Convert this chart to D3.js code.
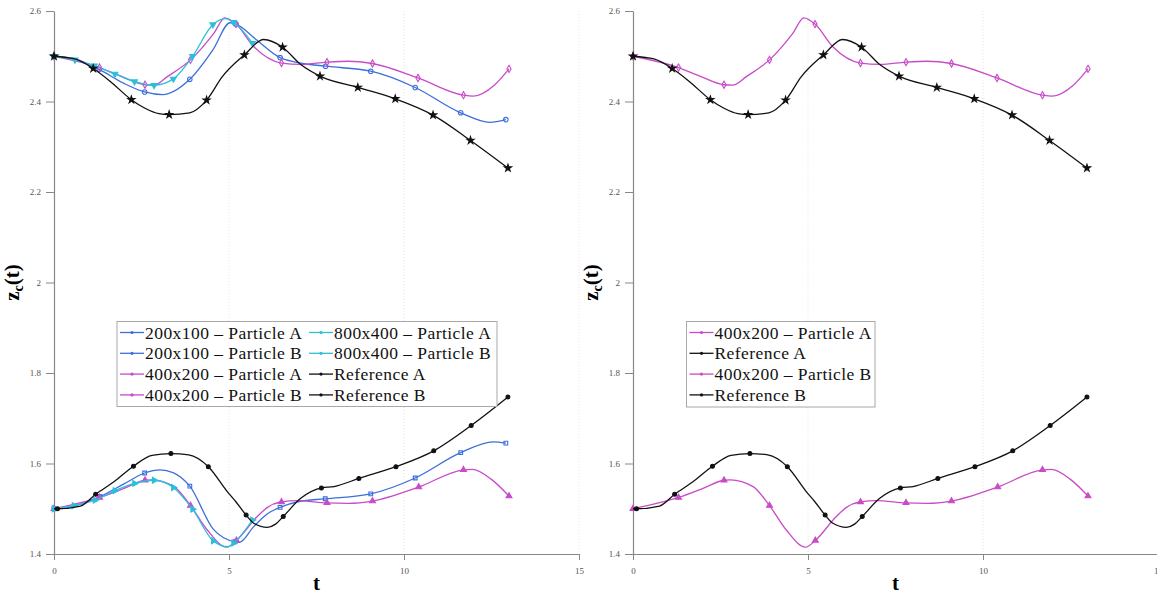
<!DOCTYPE html>
<html><head><meta charset="utf-8">
<script src="https://cdn.jsdelivr.net/npm/d3@7"></script>
<style>body{margin:0;background:#fff}svg{display:block}</style>
</head><body>
<svg id="c" width="1157" height="594"></svg>
<script>
// ---------- data (t, z, marker flag) ----------
const xTicks = [0, 5, 10, 15];
const yTicks = [1.4, 1.6, 1.8, 2.0, 2.2, 2.4, 2.6];
const yTickLabels = ["1.4", "1.6", "1.8", "2", "2.2", "2.4", "2.6"];

const b2A = [[0,2.5,1],[0.6,2.494,0],[1.29,2.471,1],[2.0,2.44,0],[2.59,2.421,1],[3.1,2.415,0],[3.88,2.449,1],[4.54,2.514,0],[5.03,2.574,0],[5.2,2.571,1],[5.79,2.536,0],[6.46,2.497,1],[6.9,2.487,0],[7.76,2.478,1],[9.05,2.467,1],[10.32,2.431,1],[11.62,2.375,1],[12.45,2.354,0],[12.91,2.360,1]];
const b2B = [[0,1.5,1],[0.6,1.507,0],[1.31,1.527,1],[2.0,1.555,0],[2.59,1.579,1],[3.03,1.586,0],[3.4,1.58,0],[3.88,1.55,1],[4.55,1.455,0],[5.17,1.427,1],[5.3,1.426,0],[5.7,1.46,0],[6.08,1.488,0],[6.46,1.503,1],[7.0,1.516,0],[7.75,1.522,1],[9.05,1.533,1],[10.32,1.568,1],[11.62,1.624,1],[12.55,1.648,0],[12.91,1.645,1]];
const m4A = [[0,2.5,1],[1.3,2.475,1],[1.91,2.456,0],[2.6,2.437,1],[2.85,2.436,0],[3.24,2.455,0],[3.9,2.492,1],[4.57,2.551,0],[4.88,2.585,0],[5.2,2.571,1],[5.71,2.521,0],[6.5,2.485,1],[7.06,2.482,0],[7.8,2.487,1],[8.4,2.489,0],[9.1,2.484,1],[10.4,2.452,1],[11.7,2.414,1],[11.98,2.412,0],[12.58,2.436,0],[13,2.472,1]];
const m4B = [[0,1.5,1],[1.3,1.525,1],[2.0,1.545,0],[2.6,1.563,1],[2.78,1.564,0],[3.43,1.549,0],[3.9,1.507,1],[4.38,1.453,0],[4.93,1.415,0],[5.21,1.43,1],[5.81,1.483,0],[6.1,1.503,0],[6.5,1.515,1],[6.95,1.518,0],[7.8,1.513,1],[8.4,1.512,0],[9.1,1.517,1],[10.42,1.548,1],[11.7,1.586,1],[11.95,1.587,0],[12.48,1.566,0],[13,1.528,1]];
const c8A = [[0,2.5,1],[0.6,2.492,1],[1.15,2.479,1],[1.74,2.461,1],[2.3,2.444,1],[2.86,2.436,1],[3.41,2.45,1],[3.96,2.5,1],[4.54,2.57,1],[4.89,2.583,0],[5.13,2.575,1],[5.67,2.529,1]];
const c8B = [[0,1.5,1],[0.57,1.507,1],[1.17,1.519,1],[1.74,1.54,1],[2.3,1.556,1],[2.86,1.563,1],[3.41,1.547,1],[3.96,1.499,1],[4.55,1.429,1],[4.98,1.416,0],[5.13,1.424,1],[5.67,1.475,1]];
const refA = [[0,2.5,1],[0.6,2.494,0],[1.12,2.473,1],[1.6,2.445,0],[2.21,2.404,1],[2.6,2.385,0],[3.0,2.373,0],[3.29,2.371,1],[3.88,2.375,0],[4.36,2.403,1],[4.81,2.455,0],[5.44,2.503,1],[5.99,2.537,0],[6.53,2.520,1],[7.06,2.481,0],[7.6,2.456,1],[8.68,2.431,1],[9.75,2.406,1],[10.83,2.370,1],[11.9,2.314,1],[12.97,2.253,1]];
const refB = [[0,1.5,0],[0.1,1.5,1],[0.76,1.506,0],[1.19,1.532,1],[1.72,1.56,0],[2.27,1.594,1],[2.8,1.618,0],[3.34,1.622,1],[3.85,1.619,0],[4.41,1.593,1],[4.95,1.538,0],[5.19,1.516,0],[5.49,1.486,1],[5.71,1.468,0],[6.1,1.459,0],[6.33,1.466,0],[6.55,1.483,1],[7.05,1.523,0],[7.64,1.546,1],[8.0,1.549,0],[8.71,1.567,1],[9.77,1.593,1],[10.85,1.628,1],[11.92,1.684,1],[12.97,1.747,1]];

const leftNames  = ["200x100 – Particle A","200x100 – Particle B","400x200 – Particle A","400x200 – Particle B","800x400 – Particle A","800x400 – Particle B","Reference A","Reference B"];
const rightNames = ["400x200 – Particle A","Reference A","400x200 – Particle B","Reference B"];

// ---------- styles ----------
const BLUE="#3a6fdc", MAG="#c84bc8", CYAN="#2cbfd9", BLK="#111";
const styles = {
  b2A:{c:BLUE, sym:d3.symbolCircle, size:16, fill:false, rot:0},
  b2B:{c:BLUE, sym:d3.symbolSquare, size:14, fill:false, rot:0},
  m4A:{c:MAG, sym:d3.symbolDiamond, size:15, fill:false, rot:0},
  m4B:{c:MAG, sym:d3.symbolTriangle, size:15, fill:true, rot:0},
  c8A:{c:CYAN, sym:d3.symbolTriangle, size:15, fill:true, rot:180},
  c8B:{c:CYAN, sym:d3.symbolTriangle, size:15, fill:true, rot:90},
  refA:{c:BLK, sym:d3.symbolStar, size:16, fill:true, rot:0},
  refB:{c:BLK, sym:d3.symbolCircle, size:12, fill:true, rot:0}
};
const dataMap = {b2A,b2B,m4A,m4B,c8A,c8B,refA,refB};

const svg = d3.select("#c");
const FONT = "'Liberation Serif','Times New Roman',serif";
const Y0 = 554, Y1 = 11;

function symbolAt(g, key, px, py) {
  const s = styles[key];
  g.append("path")
    .attr("d", d3.symbol().type(s.sym).size(s.size)())
    .attr("transform", `translate(${px},${py}) rotate(${s.rot})`)
    .attr("fill", s.fill ? s.c : "none")
    .attr("stroke", s.c).attr("stroke-width", 1.1);
}

function panel(xLeft, xRight, keys, names, legend) {
  const x = d3.scaleLinear().domain([0, 15]).range([xLeft, xRight]);
  const y = d3.scaleLinear().domain([1.4, 2.6]).range([Y0, Y1]);
  const g = svg.append("g");
  g.selectAll(".gx").data(xTicks.filter(d => d > 0)).join("line")
    .attr("x1", d => x(d)).attr("x2", d => x(d)).attr("y1", Y1).attr("y2", Y0)
    .attr("stroke", "#dcdcdc").attr("stroke-width", 0.8).attr("stroke-dasharray", "1,2");
  const ax = g.append("g").attr("transform", `translate(0,${Y0})`)
    .call(d3.axisBottom(x).tickValues(xTicks).tickSize(6).tickSizeOuter(0).tickFormat(d3.format("d")));
  const ay = g.append("g").attr("transform", `translate(${xLeft},0)`)
    .call(d3.axisLeft(y).tickValues(yTicks).tickSize(8).tickSizeOuter(0).tickFormat((d,i) => yTickLabels[i]));
  [ax, ay].forEach(a => {
    a.select(".domain").attr("stroke", "#888").attr("stroke-width", 1.2);
    a.selectAll(".tick line").attr("stroke", "#888");
    a.selectAll(".tick text").attr("fill", "#555").attr("font-family", FONT).attr("font-size", 9);
  });
  ax.selectAll(".tick text").attr("dy", "1.2em");
  ay.selectAll(".tick text").attr("dx", "-2");
  const line = d3.line().curve(d3.curveMonotoneX).x(d => x(d[0])).y(d => y(d[1]));
  keys.forEach(k => {
    const s = styles[k], data = dataMap[k];
    g.append("path").datum(data).attr("d", line)
      .attr("fill", "none").attr("stroke", s.c).attr("stroke-width", 1.3);
    data.filter(d => d[2] === 1).forEach(d => symbolAt(g, k, x(d[0]), y(d[1])));
  });
  g.append("text").attr("x", (xLeft + xRight) / 2).attr("y", 590).attr("text-anchor", "middle")
    .attr("font-family", FONT).attr("font-weight", "bold").attr("font-size", 21).text("t");
  const yl = g.append("text").attr("transform", `translate(${xLeft - 35},${(Y0 + Y1) / 2}) rotate(-90)`)
    .attr("text-anchor", "middle").attr("font-family", FONT).attr("font-weight", "bold").attr("font-size", 21);
  yl.append("tspan").text("z");
  yl.append("tspan").attr("dy", 4).attr("font-size", 14).text("c");
  yl.append("tspan").attr("dy", -4).text("(t)");
  const lg = g.append("g");
  lg.append("rect").attr("x", legend.x).attr("y", legend.y).attr("width", legend.w).attr("height", legend.h)
    .attr("fill", "#fff").attr("stroke", "#a8a8a8").attr("stroke-width", 1);
  keys.forEach((k, i) => {
    const col = Math.floor(i / legend.rows), row = i % legend.rows;
    const lx = legend.x + 3 + col * legend.colW, ly = legend.y + 11 + row * 20.8;
    const s = styles[k];
    lg.append("line").attr("x1", lx).attr("x2", lx + 24).attr("y1", ly).attr("y2", ly)
      .attr("stroke", s.c).attr("stroke-width", 1.3);
    lg.append("circle").attr("cx", lx + 12).attr("cy", ly).attr("r", 1.6).attr("fill", s.c);
    lg.append("text").attr("x", lx + 25).attr("y", ly).attr("dy", "0.35em")
      .attr("font-family", FONT).attr("font-size", 17.5).attr("letter-spacing", 0.45)
      .attr("fill", "#111").text(names[i]);
  });
}

panel(54, 579, ["b2A","b2B","m4A","m4B","c8A","c8B","refA","refB"], leftNames,
  {x: 117, y: 321.5, w: 380, h: 85, rows: 4, colW: 189});
panel(633, 1158, ["m4A","refA","m4B","refB"], rightNames,
  {x: 686.5, y: 321.5, w: 188.5, h: 85.5, rows: 4, colW: 0});
</script>
</body></html>
